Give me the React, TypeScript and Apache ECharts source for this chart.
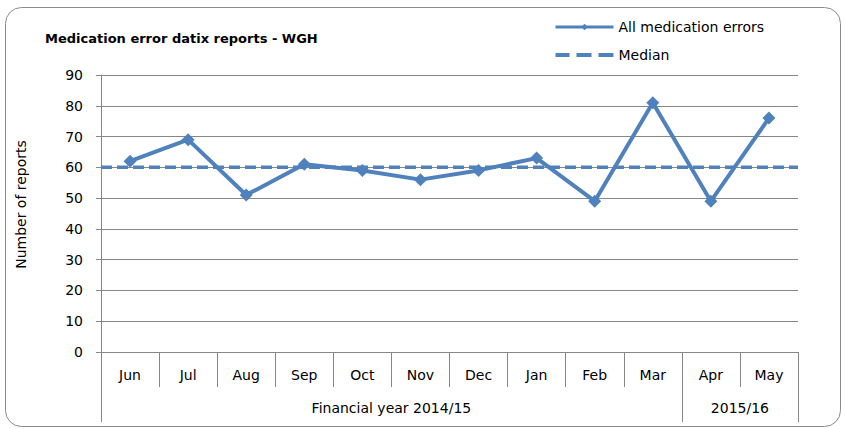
import React, { useEffect, useRef } from "react";
import * as echarts from "echarts";

const months = ["Jun", "Jul", "Aug", "Sep", "Oct", "Nov", "Dec", "Jan", "Feb", "Mar", "Apr", "May"];
const medicationErrors = [62, 69, 51, 61, 59, 56, 59, 63, 49, 81, 49, 76];
const medianValue = [60];
const yearGroups = ["Financial year 2014/15", "2015/16"];
const yearGroupSpans = [10, 2];
const yTicks = [0, 10, 20, 30, 40, 50, 60, 70, 80, 90];

const BLUE = "#4F81BD";
const GRAY = "#878787";
const FONT = "DejaVu Sans";
const DASH_ICON = "path://M0,0h14v4h-14z M21,0h15v4h-15z M43,0h15v4h-15z";

export default function App() {
  const ref = useRef<HTMLDivElement>(null);
  useEffect(() => {
    if (!ref.current) return;
    const chart = echarts.init(ref.current, undefined, { renderer: "svg" });

    const bounds: number[] = [0];
    yearGroupSpans.forEach((s) => bounds.push(bounds[bounds.length - 1] + s));
    const centres = yearGroupSpans.map((s, i) => bounds[i] + s / 2);
    const n = months.length;

    chart.setOption({
      animation: false,
      textStyle: { fontFamily: FONT },
      title: {
        text: "Medication error datix reports - WGH",
        left: 40,
        top: 27,
        textStyle: { fontFamily: FONT, fontSize: 13, fontWeight: "bold", color: "#000" },
      },
      legend: {
        orient: "vertical",
        left: 549,
        top: 15,
        itemWidth: 58,
        itemHeight: 8,
        itemGap: 14,
        symbolKeepAspect: true,
        lineStyle: { width: 3 },
        textStyle: { fontFamily: FONT, fontSize: 14, color: "#000" },
        data: [
          { name: "All medication errors" },
          { name: "Median", icon: DASH_ICON, itemStyle: { color: BLUE } },
        ],
      },
      graphic: [
        {
          type: "rect",
          shape: { x: 5.5, y: 7.5, width: 835, height: 419, r: 16 },
          style: { fill: "none", stroke: "#8a8a8a", lineWidth: 1 },
          silent: true,
        },
      ],
      grid: { left: 101, right: 47, top: 75, bottom: 77 },
      xAxis: [
        {
          type: "category",
          data: months,
          boundaryGap: true,
          axisLine: { show: true, lineStyle: { color: GRAY, width: 1 } },
          axisTick: { show: true, interval: 0, length: 35, lineStyle: { color: GRAY, width: 1 } },
          axisLabel: { interval: 0, margin: 16, fontFamily: FONT, fontSize: 14, color: "#000" },
          splitLine: { show: false },
        },
        {
          type: "value",
          min: 0,
          max: n,
          position: "bottom",
          offset: 35,
          axisLine: { show: false },
          splitLine: { show: false },
          axisTick: {
            show: true,
            length: 35,
            customValues: bounds,
            lineStyle: { color: GRAY, width: 1 },
          },
          axisLabel: {
            show: true,
            customValues: centres,
            margin: 14,
            fontFamily: FONT,
            fontSize: 14,
            color: "#000",
            formatter: (v: number) => {
              const i = centres.indexOf(v);
              return i >= 0 ? yearGroups[i] : "";
            },
          },
        },
      ],
      yAxis: {
        type: "value",
        min: yTicks[0],
        max: yTicks[yTicks.length - 1],
        interval: 10,
        name: "Number of reports",
        nameLocation: "middle",
        nameGap: 73,
        nameTextStyle: { fontFamily: FONT, fontSize: 14, color: "#000", padding: [0, 0, 0, 18] },
        axisLine: { show: true, lineStyle: { color: GRAY, width: 1 } },
        axisTick: { show: true, length: 5, lineStyle: { color: GRAY, width: 1 } },
        axisLabel: { margin: 18, fontFamily: FONT, fontSize: 14, color: "#000" },
        splitLine: { show: true, lineStyle: { color: GRAY, width: 1 } },
      },
      series: [
        {
          name: "All medication errors",
          type: "line",
          xAxisIndex: 0,
          data: medicationErrors,
          symbol: "diamond",
          symbolSize: 13,
          itemStyle: { color: BLUE },
          lineStyle: { color: BLUE, width: 4 },
          z: 3,
        },
        {
          name: "Median",
          type: "line",
          xAxisIndex: 1,
          data: [
            [0, medianValue[0]],
            [n, medianValue[0]],
          ],
          symbol: "none",
          itemStyle: { color: BLUE },
          lineStyle: { color: BLUE, width: 3.5, type: [11, 5] },
          z: 2,
        },
      ],
    });
    return () => chart.dispose();
  }, []);
  return (
    <div
      ref={ref}
      style={{ position: "fixed", left: 0, top: 0, width: 845, height: 429, background: "#fff" }}
    />
  );
}
